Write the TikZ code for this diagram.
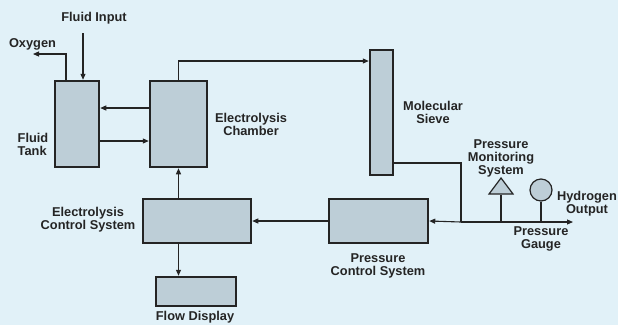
\documentclass[tikz,border=0pt]{standalone}
\usepackage{fontspec}
\setmainfont{Liberation Sans}
\usepackage{xcolor}
\usepackage{tikz}
\usetikzlibrary{arrows.meta}
\usetikzlibrary{shapes.geometric}
\definecolor{bgblue}{HTML}{E1F1F8}
\definecolor{boxgray}{HTML}{BDCED7}
\definecolor{ink}{HTML}{242424}

\begin{document}
\begin{tikzpicture}[x=1pt,y=-1pt,font=\fontsize{12.8}{13}\selectfont\bfseries]
				\fill[bgblue] (0,0) rectangle (618,325);
				\useasboundingbox (0,0) rectangle (618,325);
				
				\begin{scope}[every node/.style={rectangle,draw=ink,line width=2.5pt,fill=boxgray,inner sep=0pt}]
					\node[minimum width=44pt,minimum height=86pt] (tank) at (77,124) {};
					\node[minimum width=57pt,minimum height=86pt] (chamber) at (178.5,124) {};
					\node[minimum width=23pt,minimum height=125pt] (sieve) at (381.5,112.5) {};
					\node[minimum width=99pt,minimum height=44pt] (pcs) at (378.5,221) {};
					\node[minimum width=108pt,minimum height=44pt] (ecs) at (197,221) {};
					\node[minimum width=80pt,minimum height=29pt] (flow) at (196,291.5) {};
				\end{scope}
				
				\begin{scope}[every node/.style={draw=ink,line width=1.2pt,fill=boxgray,inner sep=0pt}]
					\node[isosceles triangle,isosceles triangle stretches,shape border rotate=90,
						minimum width=24pt,minimum height=16pt] (pms) at (501,188) {};
					\node[circle,minimum size=22pt] (gauge) at (541,190) {};
				\end{scope}
				
				\coordinate (oxout) at (33,54);
				\coordinate (fin) at (83,33);
				\coordinate (jn) at (461,222);
				\coordinate (h2out) at (573,222);
				
				\begin{scope}[>={Triangle[length=6pt,width=5pt]},
					every path/.style={draw=ink,line width=1.1pt}]
					\draw[->] ([xshift=-11pt]tank.north) |- (oxout);%oxygen%
					\draw[->] (fin) -- (fin |- tank.north);%input%
					\draw[->] (chamber.west |- 0,108) -- (tank.east |- 0,108);
					\draw[->] (tank.east |- 0,141) -- (chamber.west |- 0,141);
					\draw[->] (chamber.north) |- (sieve.west |- 0,61);
					\draw (sieve.east |- 0,163) -| (jn);
					\draw[->] (jn) -- (pcs.east);
					\draw[->] (jn) -- (h2out);
					\draw[->] (pcs.west) -- (ecs.east);
					\draw[->] (chamber.south |- ecs.north) -- (chamber.south);
					\draw[->] (chamber.south |- ecs.south) -- (chamber.south |- flow.north);
					\draw (pms.south) -- (pms.south |- jn);
					\draw (gauge.south) -- (gauge.south |- jn);
				\end{scope}
				
				\begin{scope}[every node/.style={text=ink,inner sep=0pt,align=center}]
					\node (l-input) at (94,18) {Fluid Input};
					\node (l-oxy) at (32.5,44) {Oxygen};
					\node[align=left] (l-tank) at (33,144) {Fluid\\Tank};
					\node (l-chamber) at (251,124) {Electrolysis\\Chamber};
					\node (l-sieve) at (433,112.5) {Molecular\\Sieve};
					\node (l-pms) at (501,158) {Pressure\\Monitoring\\System};
					\node (l-gauge) at (541,238.5) {Pressure\\Gauge};
					\node (l-h2) at (587,204) {Hydrogen\\Output};
					\node (l-pcs) at (378,265.5) {Pressure\\Control System};
					\node (l-ecs) at (88,220) {Electrolysis\\Control System};
					\node (l-flow) at (195,317) {Flow Display};
				\end{scope}
			\end{tikzpicture}
\end{document}
